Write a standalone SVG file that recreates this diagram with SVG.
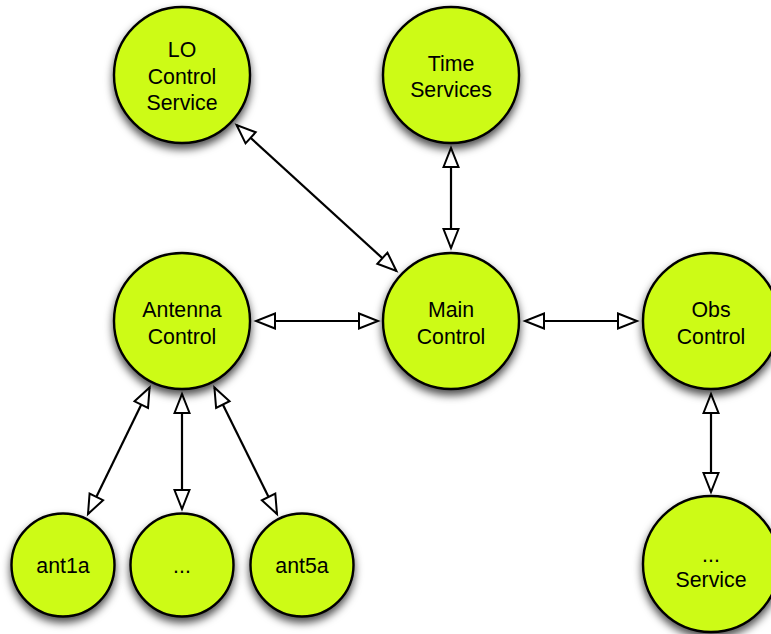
<svg xmlns="http://www.w3.org/2000/svg" width="771" height="634" viewBox="0 0 771 634">
<defs>
<style>
.node circle{fill:#CDFB14;stroke:#000;stroke-width:2.4;filter:url(#sh)}
.node text{font-family:"Liberation Sans",Arial,sans-serif;font-size:21.3px;fill:#000;text-anchor:middle}
.edge{stroke:#000;stroke-width:2.2;fill:none;marker-start:url(#ah);marker-end:url(#ah)}
</style>
<filter id="sh" x="-30%" y="-30%" width="160%" height="170%">
<feDropShadow dx="0" dy="5" stdDeviation="4.5" flood-color="#000" flood-opacity="0.7"/>
</filter>
<marker id="ah" markerUnits="userSpaceOnUse" viewBox="0 0 24 20" markerWidth="24" markerHeight="20" refX="21" refY="10" orient="auto-start-reverse">
<path d="M2,2.5 L21,10 L2,17.5 Z" fill="#fff" stroke="#000" stroke-width="2" stroke-linejoin="miter"/>
</marker>
</defs>
<rect width="771" height="634" fill="#fff"/>
<g id="connectors">
<line class="edge" x1="236.6" y1="125" x2="396.4" y2="271"/>
<line class="edge" x1="451" y1="148" x2="451" y2="248"/>
<line class="edge" x1="256" y1="321" x2="378" y2="321"/>
<line class="edge" x1="525" y1="321" x2="637" y2="321"/>
<line class="edge" x1="711" y1="394" x2="711" y2="492"/>
<line class="edge" x1="149.6" y1="387.5" x2="88" y2="514"/>
<line class="edge" x1="182" y1="394" x2="182" y2="509"/>
<line class="edge" x1="214.4" y1="387.5" x2="277" y2="514"/>
</g>
<g id="lo-control" class="node"><circle cx="182" cy="75" r="68"/><text x="182" y="57">LO</text><text x="182" y="83.5">Control</text><text x="182" y="110">Service</text></g>
<g id="time-services" class="node"><circle cx="451" cy="75" r="68"/><text x="451" y="70.5">Time</text><text x="451" y="97">Services</text></g>
<g id="antenna-control" class="node"><circle cx="182" cy="321" r="68"/><text x="182" y="317">Antenna</text><text x="182" y="343.5">Control</text></g>
<g id="main-control" class="node"><circle cx="451" cy="321" r="68"/><text x="451" y="317">Main</text><text x="451" y="343.5">Control</text></g>
<g id="obs-control" class="node"><circle cx="711" cy="321" r="68"/><text x="711" y="317">Obs</text><text x="711" y="343.5">Control</text></g>
<g id="service" class="node"><circle cx="711" cy="564" r="68"/><text x="711" y="561.5">...</text><text x="711" y="587">Service</text></g>
<g id="ant1a" class="node"><circle cx="63" cy="565" r="51.5"/><text x="63" y="573">ant1a</text></g>
<g id="ant-dots" class="node"><circle cx="182" cy="565" r="51.5"/><text x="182" y="573">...</text></g>
<g id="ant5a" class="node"><circle cx="302" cy="565" r="51.5"/><text x="302" y="573">ant5a</text></g>
</svg>
